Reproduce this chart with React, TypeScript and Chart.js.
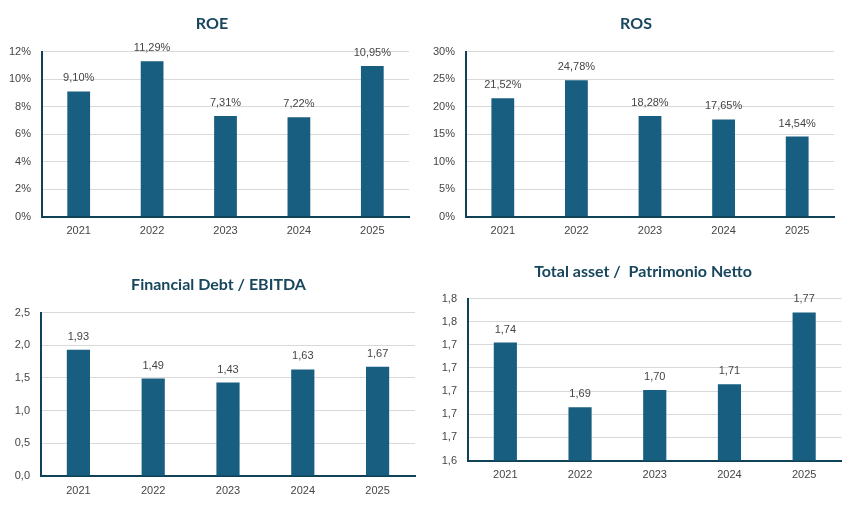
import { useEffect, useRef } from "react"
import { Chart, registerables } from "chart.js"

Chart.register(...registerables)

// values
const years = ["2021", "2022", "2023", "2024", "2025"]
const roeValues = [9.1, 11.29, 7.31, 7.22, 10.95]
const rosValues = [21.52, 24.78, 18.28, 17.65, 14.54]
const debtEbitdaValues = [1.93, 1.49, 1.43, 1.63, 1.67]
const assetEquityValues = [1.742, 1.686, 1.701, 1.706, 1.768]

const BAR = "#175e80"
const AXIS = "#0f4157"
const GRID = "#d9d9d9"
const TEXT = "#454545"
const TITLE = "#17465d"
const FONT = "'Liberation Sans', Arial, sans-serif"

const comma = (v: number, d: number) => v.toFixed(d).replace(".", ",")

type Box = { left: number; top: number; width: number; height: number }
type Area = { left: number; top: number; right: number; bottom: number }

type Props = {
  title: string
  titleX: number
  titleY: number
  box: Box
  area: Area
  values: number[]
  min: number
  max: number
  step: number
  tickFmt: (v: number) => string
  labelFmt: (v: number) => string
}

function KpiBar(props: Props) {
  const chartRef = useRef<HTMLCanvasElement>(null)
  const chartInstance = useRef<Chart | null>(null)

  useEffect(() => {
    if (!chartRef.current) return
    const { box, area } = props

    if (chartInstance.current) {
      chartInstance.current.destroy()
    }

    chartInstance.current = new Chart(chartRef.current, {
      type: "bar",
      data: {
        labels: years,
        datasets: [
          {
            data: props.values,
            backgroundColor: BAR,
            barPercentage: 0.31,
            categoryPercentage: 1,
          },
        ],
      },
      options: {
        animation: false,
        responsive: true,
        maintainAspectRatio: false,
        layout: {
          padding: {
            top: area.top - box.top,
            right: box.left + box.width - area.right,
            left: 0,
            bottom: 0,
          },
        },
        plugins: {
          legend: { display: false },
          tooltip: { enabled: false },
        },
        scales: {
          x: {
            grid: { display: false, drawTicks: false },
            border: { display: true, color: AXIS, width: 2 },
            ticks: { color: TEXT, font: { family: FONT, size: 11 }, padding: 8 },
            afterFit: (s: any) => {
              s.height = box.top + box.height - area.bottom
            },
          },
          y: {
            min: props.min,
            max: props.max,
            grid: { color: GRID, drawTicks: false },
            border: { display: true, color: AXIS, width: 2 },
            ticks: {
              stepSize: props.step,
              padding: 11,
              color: TEXT,
              font: { family: FONT, size: 11 },
              callback: (v) => props.tickFmt(Number(v)),
            },
            afterFit: (s: any) => {
              s.width = area.left - box.left
            },
          },
        },
      },
      plugins: [
        {
          id: "barLabels",
          afterDatasetsDraw(chart) {
            const ctx = chart.ctx
            const meta = chart.getDatasetMeta(0)
            ctx.save()
            ctx.font = `11px ${FONT}`
            ctx.fillStyle = TEXT
            ctx.textAlign = "center"
            ctx.textBaseline = "middle"
            meta.data.forEach((bar, i) => {
              ctx.fillText(props.labelFmt(props.values[i]), bar.x, bar.y - 13)
            })
            ctx.restore()
          },
        },
        {
          id: "kpiTitle",
          afterDraw(chart) {
            const ctx = chart.ctx
            ctx.save()
            ctx.font = "bold 16px Lato, 'Open Sans', sans-serif"
            ctx.fillStyle = TITLE
            ctx.textAlign = "center"
            ctx.textBaseline = "middle"
            ctx.fillText(props.title, props.titleX - box.left, props.titleY - box.top)
            ctx.restore()
          },
        },
      ],
    })

    return () => {
      if (chartInstance.current) {
        chartInstance.current.destroy()
        chartInstance.current = null
      }
    }
  }, [])

  const { box } = props
  return (
    <div
      style={{
        position: "absolute",
        left: box.left,
        top: box.top,
        width: box.width,
        height: box.height,
      }}
    >
      <canvas ref={chartRef} />
    </div>
  )
}

export default function App() {
  return (
    <div
      style={{
        position: "absolute",
        left: 0,
        top: 0,
        width: 857,
        height: 520,
        background: "#ffffff",
      }}
    >
      <KpiBar
        title="ROE"
        titleX={212}
        titleY={24}
        box={{ left: 0, top: 0, width: 428, height: 250 }}
        area={{ left: 42, top: 51.5, right: 409, bottom: 216.5 }}
        values={roeValues}
        min={0}
        max={12}
        step={2}
        tickFmt={(v) => `${v}%`}
        labelFmt={(v) => `${comma(v, 2)}%`}
      />
      <KpiBar
        title="ROS"
        titleX={636}
        titleY={24}
        box={{ left: 428, top: 0, width: 429, height: 250 }}
        area={{ left: 466, top: 51.5, right: 834, bottom: 216.5 }}
        values={rosValues}
        min={0}
        max={30}
        step={5}
        tickFmt={(v) => `${v}%`}
        labelFmt={(v) => `${comma(v, 2)}%`}
      />
      <KpiBar
        title="Financial Debt / EBITDA"
        titleX={218.5}
        titleY={285}
        box={{ left: 0, top: 250, width: 428, height: 270 }}
        area={{ left: 41, top: 312.5, right: 415, bottom: 476 }}
        values={debtEbitdaValues}
        min={0}
        max={2.5}
        step={0.5}
        tickFmt={(v) => comma(v, 1)}
        labelFmt={(v) => comma(v, 2)}
      />
      <KpiBar
        title="Total asset /  Patrimonio Netto"
        titleX={643}
        titleY={272}
        box={{ left: 428, top: 250, width: 429, height: 270 }}
        area={{ left: 468, top: 298.5, right: 841.5, bottom: 460.5 }}
        values={assetEquityValues}
        min={1.64}
        max={1.78}
        step={0.02}
        tickFmt={(v) => comma(v, 1)}
        labelFmt={(v) => comma(v, 2)}
      />
    </div>
  )
}
